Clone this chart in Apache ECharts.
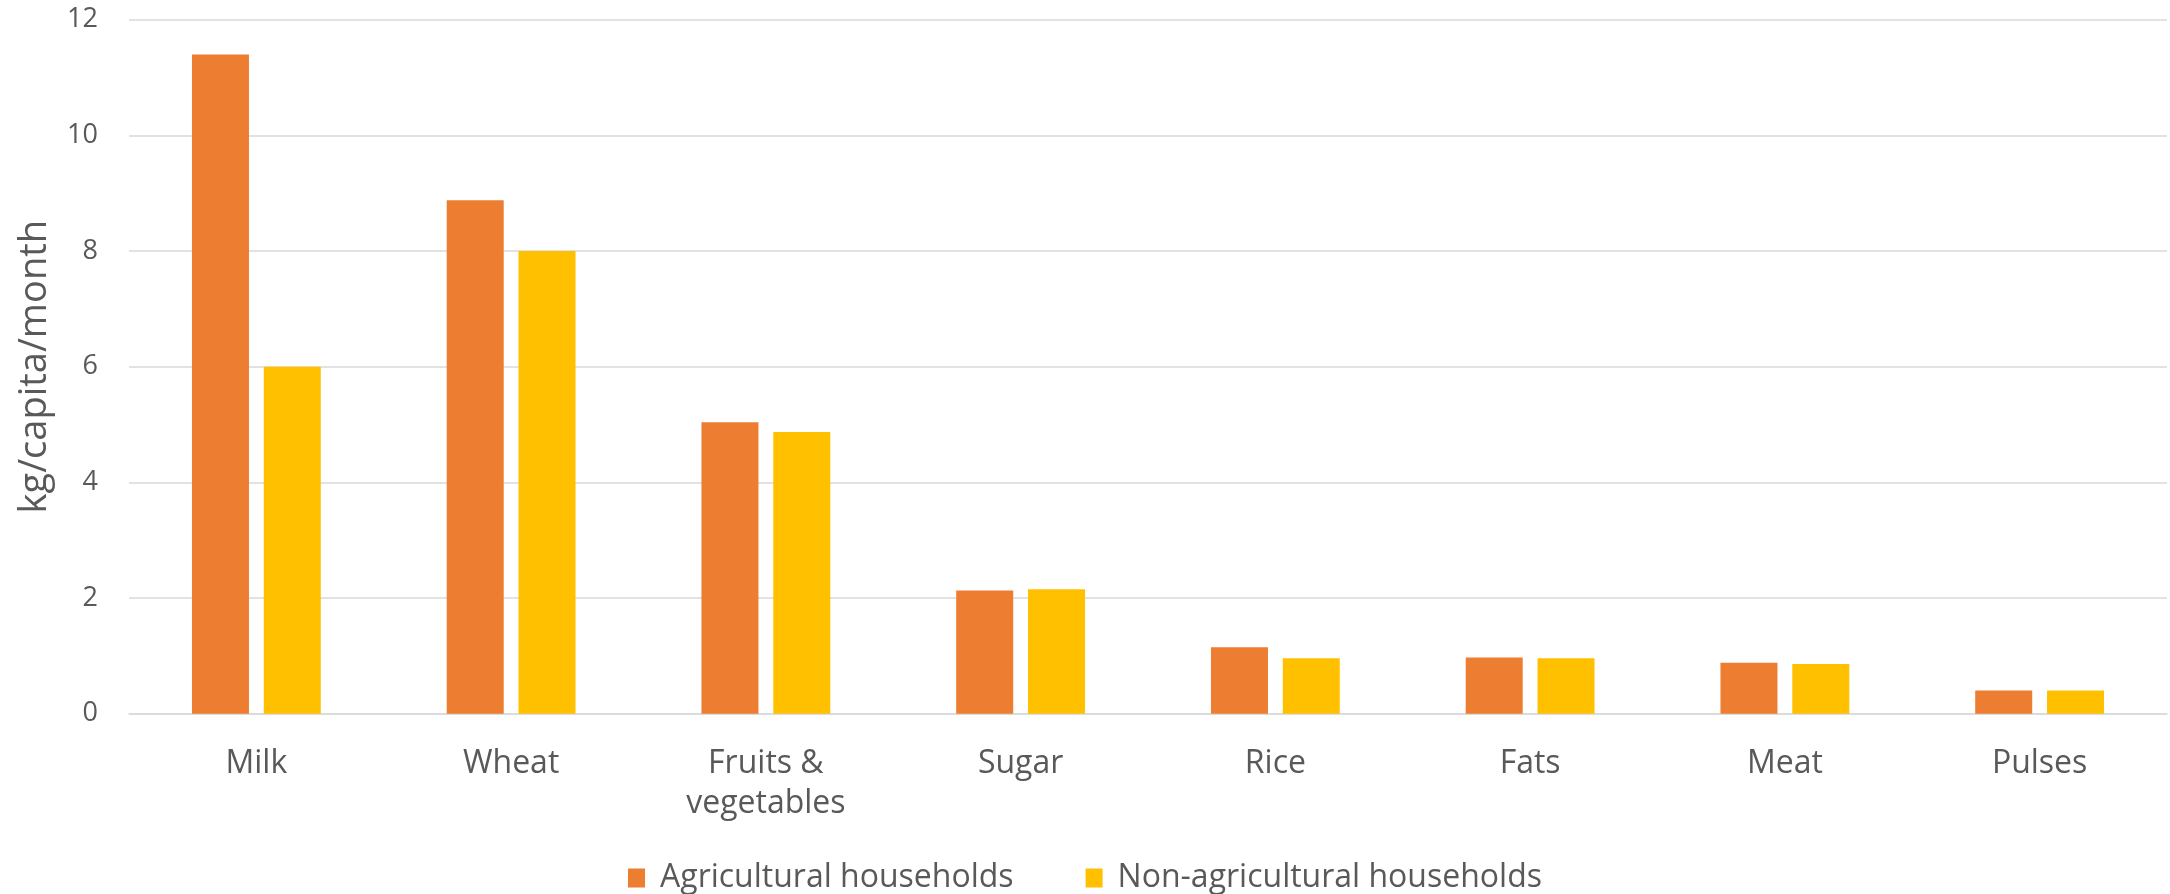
<!DOCTYPE html>
<html>
<head>
<meta charset="utf-8">
<script src="https://cdn.jsdelivr.net/npm/echarts@6/dist/echarts.min.js"></script>
<style>html,body{margin:0;padding:0;background:#fff}#c{width:2170px;height:894px}</style>
</head>
<body>
<div id="c"></div>
<script>
const categories = ['Milk', 'Wheat', 'Fruits &\nvegetables', 'Sugar', 'Rice', 'Fats', 'Meat', 'Pulses'];
const agricultural = [11.4, 8.88, 5.04, 2.13, 1.15, 0.97, 0.88, 0.40];
const nonAgricultural = [6.0, 8.0, 4.87, 2.15, 0.96, 0.96, 0.86, 0.40];
const seriesNames = ['Agricultural households', 'Non-agricultural households'];
const yAxisName = 'kg/capita/month';

const font = '"Open Sans", "Noto Sans", sans-serif';
const chart = echarts.init(document.getElementById('c'), null, {renderer: 'canvas'});
chart.setOption({
  animation: false,
  textStyle: {fontFamily: font},
  grid: {left: 129, right: 3, top: 19.7, bottom: 180.3, containLabel: false, outerBoundsMode: 'none'},
  legend: {
    data: seriesNames,
    top: 857,
    left: 'center',
    itemWidth: 17,
    itemHeight: 19,
    itemGap: 72,
    icon: 'rect',
    textStyle: {fontSize: 32, color: '#595959', fontFamily: font, padding: [0, 0, 0, 10]}
  },
  xAxis: {
    type: 'category',
    data: categories,
    axisTick: {show: false},
    axisLine: {lineStyle: {color: '#d9d9d9', width: 1.5}},
    axisLabel: {fontSize: 32, color: '#595959', margin: 30, lineHeight: 40, interval: 0, fontFamily: font}
  },
  yAxis: {
    type: 'value',
    min: 0,
    max: 12,
    interval: 2,
    name: yAxisName,
    nameLocation: 'middle',
    nameGap: 75,
    nameRotate: 90,
    nameTextStyle: {fontSize: 38, color: '#595959', fontFamily: font},
    axisLine: {show: false},
    axisTick: {show: false},
    splitLine: {lineStyle: {color: '#d9d9d9', width: 1.5}},
    axisLabel: {fontSize: 27, color: '#595959', margin: 31, fontFamily: font}
  },
  series: [
    {name: seriesNames[0], type: 'bar', data: agricultural, barWidth: 57, barGap: '26%',
     itemStyle: {color: '#ED7D31'}},
    {name: seriesNames[1], type: 'bar', data: nonAgricultural, barWidth: 57, barGap: '26%',
     itemStyle: {color: '#FFC000'}}
  ]
});
</script>
</body>
</html>
